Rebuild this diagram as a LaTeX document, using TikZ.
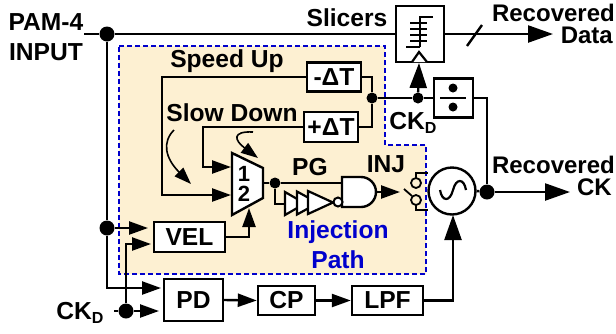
\documentclass[tikz,border=0pt]{standalone}
\usepackage{fontspec}
\usepackage{xcolor}
\usepackage{tikz}
\usetikzlibrary{arrows.meta}
\setmainfont{Liberation Sans}
\definecolor{regionfill}{HTML}{FDF0D2}
\definecolor{regionblue}{HTML}{0000CC}
\newcommand{\ckdlabel}{CK\raisebox{-4pt}{\fontsize{16}{16}\selectfont D}}
\tikzset{
    sig/.style={line width=2.4pt},
    sigarrow/.style={line width=2.4pt, -{Triangle[length=25pt,width=17pt]}},
    smallarrow/.style={line width=2.4pt, -{Triangle[length=19pt,width=13pt]}},
    blockbox/.style={draw, line width=2.4pt, fill=white, inner sep=0pt, font=\fontsize{24.6}{26}\selectfont\bfseries},
    dotbig/.style={circle, fill=black, inner sep=0pt, minimum size=15pt},
    dotsmall/.style={circle, fill=black, inner sep=0pt, minimum size=11pt},
    lbl/.style={inner sep=0pt, align=center, font=\fontsize{24.6}{30}\selectfont\bfseries},
    lblright/.style={inner sep=0pt, anchor=east, font=\fontsize{24}{24}\selectfont\bfseries},
}
\begin{document}
\begin{tikzpicture}[x=1pt, y=-1pt]
    \useasboundingbox (0,0) rectangle (616,333);

    % 注入路径区域
    \fill[regionfill] (119,46) -- (385,46) -- (385,145) -- (426,145) -- (426,274) -- (119,274) -- cycle;
    \draw[regionblue, line width=2.6pt, dash pattern=on 5pt off 3pt] (119,46) -- (385,46) -- (385,145) -- (426,145) -- (426,274) -- (119,274) -- cycle;

    % 方框
    \node[blockbox, minimum width=48pt, minimum height=56pt] (slicer) at (420,34) {};
    \node[blockbox, minimum width=54pt, minimum height=29pt] (minusdt) at (334,77) {-ΔT};
    \node[blockbox, minimum width=54pt, minimum height=30pt] (plusdt) at (331,127) {+ΔT};
    \node[blockbox, minimum width=39pt, minimum height=39pt] (divider) at (453.5,98) {};
    \node[blockbox, minimum width=71pt, minimum height=30pt] (vel) at (189.5,237) {VEL};
    \node[blockbox, minimum width=59pt, minimum height=42pt] (pd) at (193.5,300) {PD};
    \node[blockbox, minimum width=57pt, minimum height=29pt] (cp) at (286.5,300.5) {CP};
    \node[blockbox, minimum width=71pt, minimum height=29pt] (lpf) at (387.5,300.5) {LPF};
    \node[circle, draw, line width=2.4pt, fill=white, inner sep=0pt, minimum size=47pt] (vco) at (452,191) {};

    % 端点
    \coordinate (inputstart) at (84,34);
    \coordinate (ckdstart) at (114,311);
    \coordinate (velina) at (148,228);
    \coordinate (velinb) at (151,244);
    \coordinate (pdina) at (161,288);
    \coordinate (pdinb) at (159,311);
    \coordinate (muxina) at (231,167);
    \coordinate (muxinb) at (231,195);
    \coordinate (muxsel) at (249,208);
    \coordinate (muxout) at (263,183);
    \coordinate (andina) at (342,183);
    \coordinate (bufin) at (285,204);
    \coordinate (andout) at (376,192);
    \coordinate (injtip) at (400,192);
    \coordinate (slicerclk) at (419,63);
    \coordinate (dataout) at (553,34);
    \coordinate (ckout) at (570,192);
    \coordinate (vcoin) at (453,215);

    % 节点圆点
    \node[dotbig] (dotinput) at (107,34) {};
    \node[dotbig] (dotvel) at (107,228) {};
    \node[dotbig] (dotckd) at (126,311) {};
    \node[dotsmall] (dotdelay) at (372,98) {};
    \node[dotsmall] (dotclk) at (418,98) {};
    \node[dotsmall] (dotmux) at (275,183) {};
    \node[dotbig] (dotck) at (487,192) {};

    % 连线
    \draw[sig] (inputstart) -- (dotinput) -- (slicer.west);
    \draw[sig] (dotinput) -- (dotvel);
    \draw[smallarrow] (dotvel) |- (pdina);
    \draw[smallarrow] (dotvel) -- (velina);
    \draw[sig] (ckdstart) -- (dotckd);
    \draw[smallarrow] (dotckd) -- (pdinb);
    \draw[smallarrow] (dotckd) |- (velinb);
    \draw[smallarrow] (minusdt.west) -| (162,195) -- (muxinb);
    \draw[smallarrow] (plusdt.west) -| (203,167) -- (muxina);
    \draw[sig] (minusdt.east) -| (dotdelay);
    \draw[sig] (plusdt.east) -| (dotdelay);
    \draw[sig] (dotdelay) -- (dotclk) -- (divider.west);
    \draw[sigarrow] (dotclk) -- (slicerclk);
    \draw[sig] (divider.east) -| (dotck);
    \draw[sig] (vco.east) -- (dotck);
    \draw[sigarrow] (dotck) -- (ckout);
    \draw[sigarrow] (slicer.east) -- (dataout);
    \draw[sig] (467,46) -- (482,25);
    \draw[smallarrow] (vel.east) -| (muxsel);
    \draw[smallarrow] (pd.east) -- (cp.west);
    \draw[smallarrow] (cp.east) -- (lpf.west);
    \draw[sigarrow] (lpf.east) -| (vcoin);
    \draw[sig] (muxout) -- (dotmux) -- (andina);
    \draw[sig] (dotmux) |- (bufin);
    \draw[smallarrow] (andout) -- (injtip);

    % 选择器
    \draw[line width=2.4pt, fill=white] (232,153) -- (263,168) -- (263,198) -- (232,215) -- cycle;
    \node[lbl, font=\fontsize{22}{24}\selectfont\bfseries] (muxone) at (244,174) {1};
    \node[lbl, font=\fontsize{22}{24}\selectfont\bfseries] (muxtwo) at (244,194) {2};

    % 缓冲器和与门
    \draw[line width=2.2pt, fill=white] (285,192) -- (305,203.5) -- (285,215) -- cycle;
    \draw[line width=2.2pt, fill=white] (297,191.5) -- (318,203) -- (297,214.5) -- cycle;
    \draw[line width=2.2pt, fill=white] (308,191) -- (333,202.5) -- (308,214) -- cycle;
    \draw[line width=2.4pt, fill=white] (342,177) -- (361,177) arc (-90:90:15) -- (342,207) -- cycle;
    \draw[line width=2pt, fill=white] (338,202) circle (4.5);

    % 开关
    \draw[line width=1.8pt] (416,178) -- (416,173) -- (428,173);
    \draw[line width=1.8pt] (416,205) -- (416,210) -- (428,210);
    \draw[line width=1.8pt] (416,183) circle (5);
    \draw[line width=1.8pt] (416,200) circle (5);
    \draw[line width=1.8pt] (404,189) -- (412,196);

    % 正弦符号
    \draw[line width=2.2pt] (440,190) .. controls (442,202) and (450,202) .. (453,190) .. controls (456,178) and (464,178) .. (466,190);

    % 判决器符号
    \draw[line width=2.4pt] (433,17) -- (420,17) -- (420,47);
    \draw[line width=2.4pt] (406,47) -- (420,47);
    \foreach \ytick in {23,29,35,41} {
        \draw[line width=2.4pt] (410,\ytick) -- (427,\ytick);
    }
    \draw[line width=2.2pt, fill=white] (412,62) -- (419,52) -- (427,62);

    % 除法符号
    \fill (453,88) circle (4.5);
    \fill (453,107) circle (4.5);
    \draw[line width=2.4pt] (440,98) -- (466,98);

    % 弯曲箭头
    \draw[line width=1.6pt, -{Triangle[length=17pt,width=12pt]}] (174,130) .. controls (162,142) and (165,158) .. (191,184);
    \draw[line width=1.6pt, -{Triangle[length=17pt,width=12pt]}] (253,132) .. controls (232,131) and (234,140) .. (258,158);

    % 文字标注
    \node[lbl] (inputlabel) at (46,37) {PAM-4\\INPUT};
    \node[lbl] (ckdlabel) at (80,313) {\ckdlabel};
    \node[lbl] (slicerslabel) at (347,18) {Slicers};
    \node[lbl] (speeduplabel) at (227,61) {Speed Up};
    \node[lbl] (slowdownlabel) at (232,113) {Slow Down};
    \node[lbl] (pglabel) at (310,167) {PG};
    \node[lbl] (injlabel) at (386,164) {INJ};
    \node[lbl] (ckdmidlabel) at (413,123) {\ckdlabel};
    \node[lbl, text=regionblue] (pathlabel) at (338,245) {Injection\\Path};
    \node[lblright] (datalabela) at (615,13) {Recovered};
    \node[lblright] (datalabelb) at (613,35) {Data};
    \node[lblright] (cklabela) at (615,165) {Recovered};
    \node[lblright] (cklabelb) at (612,187) {CK};
\end{tikzpicture}
\end{document}
